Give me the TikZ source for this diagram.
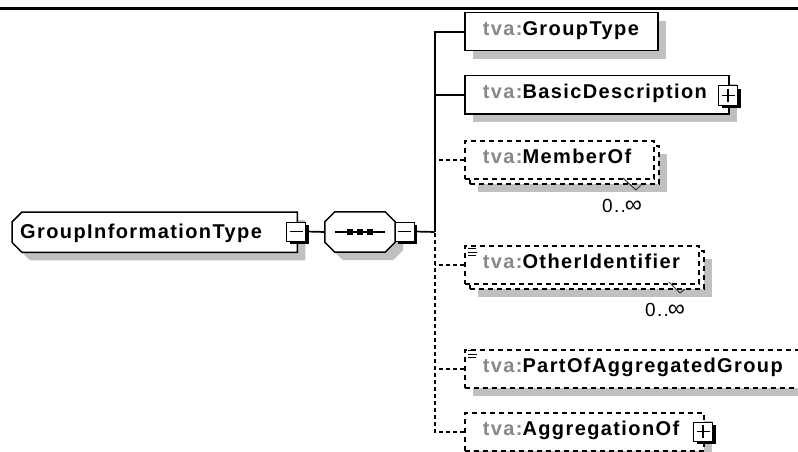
\documentclass[tikz,border=0pt]{standalone}
\usepackage{fontspec}
\newfontfamily\dfont[LetterSpace=7]{Liberation Sans}
\definecolor{shadegray}{HTML}{C0C0C0}
\definecolor{pfxgray}{HTML}{888888}
\pgfdeclarelayer{bg}
\pgfsetlayers{bg,main}
\begin{document}
\begin{tikzpicture}[x=1pt,y=-1pt,
  lbl/.style={font=\dfont\bfseries\fontsize{20}{22}\selectfont},
  mult/.style={font=\dfont\fontsize{19}{21}\selectfont, inner sep=0pt},
  elembox/.style={draw=black, line width=1.5pt, fill=white, minimum height=38pt,
    inner xsep=18pt, inner ysep=0pt, anchor=north west, align=left,
    text height=14pt, text depth=6pt, lbl},
  optbox/.style={elembox, dash pattern=on 5pt off 4pt},
  shad/.style={preaction={fill=shadegray, transform canvas={shift={(8pt,-8pt)}}}},
  stackshad/.style={preaction={fill=shadegray, transform canvas={shift={(13pt,-13pt)}}},
    preaction={draw=black, line width=1.5pt, dash pattern=on 5pt off 4pt, fill=white,
      transform canvas={shift={(5pt,-5pt)}}}},
  pmbox/.style={draw=black, line width=1pt, fill=white, minimum width=19pt,
    minimum height=19pt, inner sep=0pt,
    preaction={fill=black, transform canvas={shift={(3pt,-3pt)}}}},
  minus/.style={pmbox, path picture={\draw[line width=1.2pt]
    ([shift={(3,0)}]path picture bounding box.west) -- ([shift={(-3,0)}]path picture bounding box.east);}},
  plus/.style={pmbox, path picture={\draw[line width=1.2pt]
    ([shift={(3,0)}]path picture bounding box.west) -- ([shift={(-3,0)}]path picture bounding box.east)
    ([shift={(0,3)}]path picture bounding box.north) -- ([shift={(0,-3)}]path picture bounding box.south);}},
  conn/.style={line width=1.7pt},
  dconn/.style={line width=1.7pt, dash pattern=on 4pt off 3pt},
  outline/.style={line width=1.5pt, draw=black, fill=white},
  tick/.style={line width=1pt, draw=black!80},
  icon/.style={line width=1pt}
]
\useasboundingbox (0,0) rectangle (798,452);
\clip (0,0) rectangle (798,452);

% top rule
\draw[line width=2.5pt] (0,8.5) -- (798,8.5);

% root complex type
\node[lbl, anchor=north west, minimum width=285pt, minimum height=40pt,
  text width=269pt, inner xsep=8pt, inner ysep=0pt, align=left,
  text height=14pt, text depth=2pt] (git) at (12,212) {GroupInformationType};
\node[minus] (gitm) at (296,231.5) {};

% sequence compositor
\node[minimum width=70pt, minimum height=40pt, inner sep=0pt] (seq) at (360,232) {};
\node[minus] (seqm) at (404.5,231.5) {};

\begin{pgfonlayer}{bg}
  \draw[outline, preaction={fill=shadegray, transform canvas={shift={(8pt,-8pt)}}}]
    ([shift={(10,0)}]git.north west) -- (git.north east) -- (git.south east)
    -- ([shift={(10,0)}]git.south west) -- ([shift={(0,-10)}]git.south west)
    -- ([shift={(0,10)}]git.north west) -- cycle;
  \draw[outline, preaction={fill=shadegray, transform canvas={shift={(8pt,-8pt)}}}]
    ([shift={(10,0)}]seq.north west) -- ([shift={(-10,0)}]seq.north east)
    -- ([shift={(0,10)}]seq.north east) -- ([shift={(0,-10)}]seq.south east)
    -- ([shift={(-10,0)}]seq.south east) -- ([shift={(10,0)}]seq.south west)
    -- ([shift={(0,-10)}]seq.south west) -- ([shift={(0,10)}]seq.north west) -- cycle;
\end{pgfonlayer}
\draw[line width=1.3pt] ([shift={(10,0)}]seq.west) -- ([shift={(-10,0)}]seq.east);
\fill (seq.center) ++(-13,-3) rectangle ++(6,6);
\fill (seq.center) ++(-3,-3) rectangle ++(6,6);
\fill (seq.center) ++(7,-3) rectangle ++(6,6);
\node[minus] at (seqm) {};

% child elements
\node[elembox, shad, text width=157pt] (gt) at (464,12)
  {\textcolor{pfxgray}{tva:}GroupType};
\node[elembox, shad, text width=228pt] (bd) at (464,75)
  {\textcolor{pfxgray}{tva:}BasicDescription};
\node[plus] (bdp) at (728,95.5) {};
\node[optbox, stackshad, text width=153pt] (mo) at (464,140)
  {\textcolor{pfxgray}{tva:}MemberOf};
\node[optbox, stackshad, text width=198pt] (oi) at (464,245)
  {\textcolor{pfxgray}{tva:}OtherIdentifier};
\node[optbox, shad, text width=324pt] (pa) at (464,349)
  {\textcolor{pfxgray}{tva:}PartOfAggregatedGroup};
\node[optbox, shad, text width=203pt] (ao) at (464,412)
  {\textcolor{pfxgray}{tva:}AggregationOf};
\node[plus] (aop) at (703,431.5) {};

% icons
\draw[icon] (468,248.5) -- (476,248.5) (468,252) -- (477,252) (468,255.5) -- (476,255.5);
\draw[icon] (468,350.5) -- (476,350.5) (468,354) -- (477,354) (468,357.5) -- (476,357.5);

% multiplicity
\draw[tick] (623,178) -- (636,190) -- (641,185);
\node[mult, anchor=base west] (mol) at (602,212) {0..\kern-1pt{\fontsize{24}{24}\selectfont∞}};
\draw[tick] (669,282) -- (680,293) -- (685,289);
\node[mult, anchor=base west] (oil) at (645,316) {0..\kern-1pt{\fontsize{24}{24}\selectfont∞}};

% connectors
\coordinate (trunk) at (434.7,232);
\draw[conn] (gitm.east) -- (seq.west);
\draw[conn] (seqm.east) -- (trunk);
\draw[conn] (gt.west) -| (trunk);
\draw[conn] (bd.west) -- (bd.west -| trunk);
\draw[dconn] (ao.west) -| (trunk);
\draw[dconn] (mo.west) -- (mo.west -| trunk);
\draw[dconn] (oi.west) -- (oi.west -| trunk);
\draw[dconn] (pa.west) -- (pa.west -| trunk);
\end{tikzpicture}
\end{document}
